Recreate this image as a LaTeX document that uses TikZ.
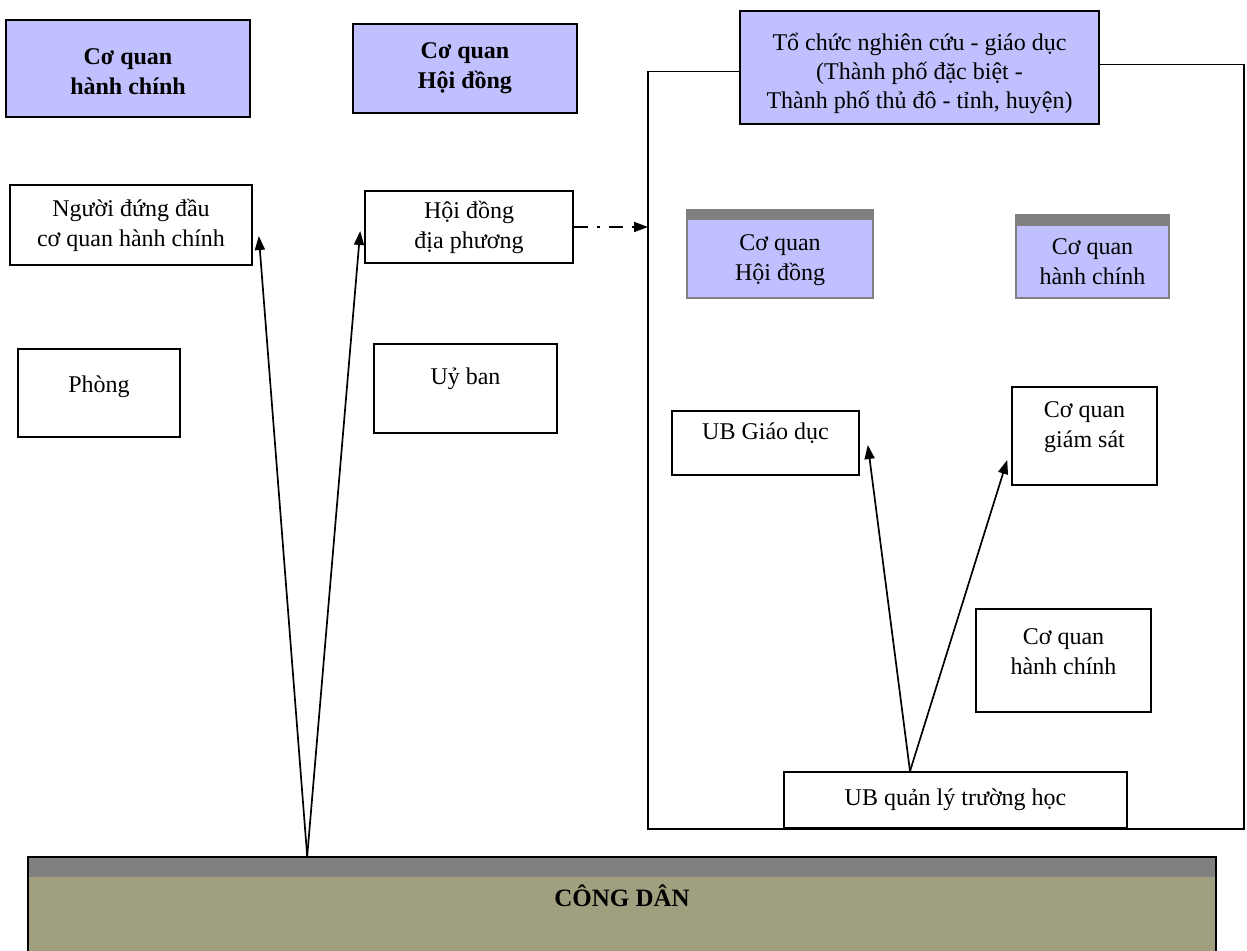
\documentclass[tikz,border=0pt]{standalone}
\usepackage{fontspec}
\setmainfont{Liberation Serif}
\usetikzlibrary{arrows.meta}

\begin{document}
\begin{tikzpicture}[x=1pt,y=-1pt,
  box/.style={draw,line width=1.6pt,fill=white,align=center,inner sep=0pt,font=\fontsize{24}{30}\selectfont},
  head/.style={box,fill=lavender,font=\fontsize{24}{30}\selectfont\bfseries},
  barbox/.style={box,draw=gray,line width=1.2pt,fill=lavender,path picture={\fill[bargray] (path picture bounding box.north west) rectangle ([yshift=-#1]path picture bounding box.north east);}},
  txt/.style={align=center,inner sep=0pt,font=\fontsize{24}{30}\selectfont},
  arr/.style={line width=1.7pt,-{Triangle[length=14pt,width=10pt]}}]
\definecolor{lavender}{HTML}{C0C0FF}
\definecolor{bargray}{HTML}{808080}
\definecolor{olive}{HTML}{A0A080}
\useasboundingbox (0,0) rectangle (1247,950);

% left side
\node[head,minimum width=244,minimum height=97] (hanhchinh) at (128,68.5) {};
\node[txt,font=\fontsize{24}{30}\selectfont\bfseries] (hanhchinhtxt) at ([yshift=-3pt]hanhchinh.center) {Cơ quan\\hành chính};
\node[head,minimum width=224,minimum height=89] (hoidong) at (465,68.5) {Cơ quan\\Hội đồng};
\node[box,minimum width=242,minimum height=80] (nguoidungdau) at (131,225) {Người đứng đầu\\cơ quan hành chính};
\node[box,minimum width=208,minimum height=72] (hoidongdp) at (469,227) {Hội đồng\\địa phương};
\node[box,minimum width=162,minimum height=88] (phong) at (99,393) {};
\node[txt] (phongtxt) at ([yshift=6pt]phong.center) {Phòng};
\node[box,minimum width=183,minimum height=89] (uyban) at (465.5,388.5) {};
\node[txt] (uybantxt) at ([yshift=10pt]uyban.center) {Uỷ ban};

% right side
\node[box,fill=lavender,minimum width=359,minimum height=113] (tochuc) at (919.5,67.5) {};
\node[txt,font=\fontsize{24}{29}\selectfont] (tochuctxt) at ([yshift=-6pt]tochuc.center) {Tổ chức nghiên cứu - giáo dục\\(Thành phố đặc biệt -\\Thành phố thủ đô - tỉnh, huyện)};
\coordinate (frameSW) at (648,829);
\coordinate (frameSE) at (1244,829);
\draw[line width=1.5pt] ([yshift=-4pt]tochuc.west) -| (frameSW) -- (frameSE) |- ([yshift=3pt]tochuc.east);
\node[barbox=10pt,minimum width=186,minimum height=88] (hoidongtp) at (780,254) {};
\node[txt] (hoidongtptxt) at ([yshift=-6pt]hoidongtp.center) {Cơ quan\\Hội đồng};
\node[barbox=11pt,minimum width=153,minimum height=83] (hanhchinhtp) at (1092.5,256.5) {};
\node[txt] (hanhchinhtptxt) at ([yshift=-5.5pt]hanhchinhtp.center) {Cơ quan\\hành chính};
\node[box,minimum width=187,minimum height=64] (ubgiaoduc) at (765.5,443) {};
\node[txt] (ubgiaoductxt) at ([yshift=10pt]ubgiaoduc.center) {UB Giáo dục};
\node[box,minimum width=145,minimum height=98] (giamsat) at (1084.5,436) {};
\node[txt] (giamsattxt) at ([yshift=9pt]giamsat.center) {Cơ quan\\giám sát};
\node[box,minimum width=175,minimum height=103] (hanhchinhql) at (1063.5,660.5) {};
\node[txt] (hanhchinhqltxt) at ([yshift=8.5pt]hanhchinhql.center) {Cơ quan\\hành chính};
\node[box,minimum width=343,minimum height=56] (ubquanly) at (955.5,800) {UB quản lý trường học};

% citizens
\node[box,fill=olive,minimum width=1188,minimum height=110,path picture={\fill[bargray] (path picture bounding box.north west) rectangle ([yshift=-20pt]path picture bounding box.north east);}] (congdan) at (622,912) {};
\node[txt,font=\fontsize{25}{30}\selectfont\bfseries] (congdantxt) at ([yshift=16pt]congdan.center) {CÔNG DÂN};

% arrows
\coordinate (root) at ([xshift=280pt]congdan.north west);
\coordinate (tipA) at ([xshift=6pt,yshift=-11pt]nguoidungdau.east);
\coordinate (tipB) at ([xshift=-4pt,yshift=-4pt]hoidongdp.west);
\draw[arr] (root) -- (tipA);
\draw[arr] (root) -- (tipB);
\draw[arr,dash pattern=on 14pt off 9pt on 3pt off 9pt] (hoidongdp.east) -- (hoidongdp.east -| frameSW);
\coordinate (root2) at ([xshift=-45.5pt]ubquanly.north);
\coordinate (tipC) at ([xshift=8pt,yshift=-2pt]ubgiaoduc.east);
\coordinate (tipD) at ([xshift=-4pt,yshift=-24pt]giamsat.west);
\draw[arr] (root2) -- (tipC);
\draw[arr] (root2) -- (tipD);
\end{tikzpicture}
\end{document}
